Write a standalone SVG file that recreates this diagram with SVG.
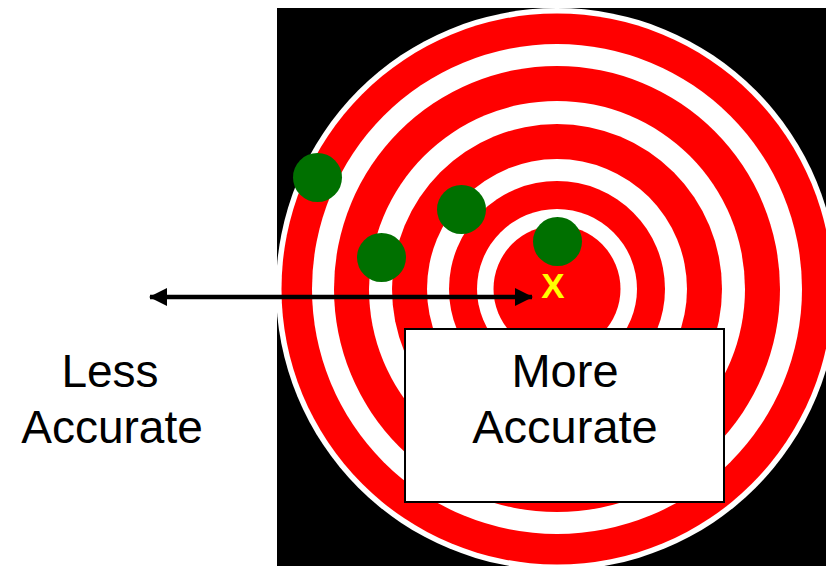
<svg xmlns="http://www.w3.org/2000/svg" width="826" height="566" viewBox="0 0 826 566">
  <defs>
    <style>
      .red { fill: #ff0000; }
      .wht { fill: #ffffff; }
      .dot { fill: #007000; }
      .lbl { font-family: "Liberation Sans", Arial, sans-serif; font-size: 46px; fill: #000000; text-anchor: middle; }
    </style>
    <marker id="ah" viewBox="0 0 18 18" refX="17" refY="9" markerWidth="18" markerHeight="18" markerUnits="userSpaceOnUse" orient="auto-start-reverse">
      <path d="M0,0 L18,9 L0,18 Z" fill="#000"/>
    </marker>
  </defs>
  <rect x="0" y="0" width="826" height="566" fill="#ffffff"/>
  <g id="target">
    <rect x="277" y="8" width="549" height="558" fill="#000000"/>
    <circle cx="557" cy="289" r="281" class="wht"/>
    <circle cx="557" cy="289" r="275.5" class="red"/>
    <circle cx="557" cy="289" r="245" class="wht"/>
    <circle cx="557" cy="289" r="223" class="red"/>
    <circle cx="557" cy="289" r="188" class="wht"/>
    <circle cx="557" cy="289" r="165" class="red"/>
    <circle cx="557" cy="289" r="130" class="wht"/>
    <circle cx="557" cy="289" r="108" class="red"/>
    <circle cx="557" cy="289" r="80" class="wht"/>
    <circle cx="557" cy="289" r="63.5" class="red"/>
  </g>
  <g id="shots">
    <circle cx="317.5" cy="177.5" r="24.5" class="dot"/>
    <circle cx="381.5" cy="257.5" r="24.5" class="dot"/>
    <circle cx="461.5" cy="209.5" r="24.5" class="dot"/>
    <circle cx="557.5" cy="241.5" r="24.5" class="dot"/>
  </g>
  <g id="center-mark">
    <text x="553" y="298" font-family="Liberation Sans, Arial, sans-serif" font-size="35" font-weight="bold" fill="#ffff00" text-anchor="middle">X</text>
  </g>
  <g id="connectors">
    <line x1="150" y1="297" x2="532" y2="297" stroke="#000" stroke-width="4.5" marker-start="url(#ah)" marker-end="url(#ah)"/>
  </g>
  <g id="less-accurate">
    <text x="110" y="387" class="lbl">Less</text>
    <text x="112" y="443" class="lbl">Accurate</text>
  </g>
  <g id="more-accurate">
    <rect x="405" y="329" width="319" height="173" fill="#ffffff" stroke="#000000" stroke-width="2"/>
    <text x="565" y="387" class="lbl" style="font-size:47px">More</text>
    <text x="565" y="443" class="lbl" style="font-size:47px">Accurate</text>
  </g>
</svg>
